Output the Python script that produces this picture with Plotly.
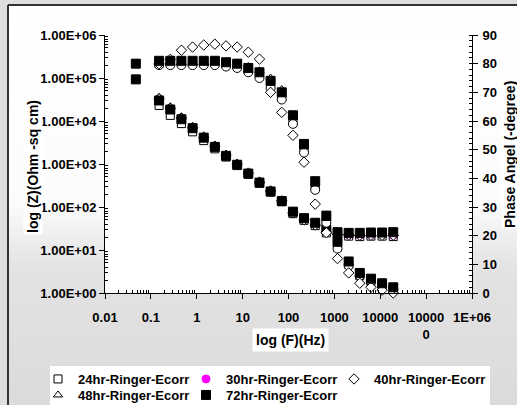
import base64
import plotly.graph_objects as go

# ---------------- data ----------------
freq = [0.151, 0.265, 0.463, 0.811, 1.42, 2.48, 4.35, 7.60, 13.3, 23.3, 40.7,
        71.3, 125, 218, 382, 668, 1170, 2050, 3580, 6270, 10960, 19190]
freq_72 = [0.047, 0.151, 0.265, 0.463, 0.811, 1.42, 2.48, 4.35, 7.60, 13.3, 23.3, 40.7,
           71.3, 125, 218, 382, 668, 1170, 2050, 3580, 6270, 10960, 19190]

z_24 = [23000, 13500, 8700, 5600, 3500, 2250, 1450, 920, 575, 355, 222, 132,
        70, 49, 37, 25, 21.5, 21, 20.5, 21, 21, 20.5]
z_30 = [32000, 19500, 11500, 6900, 4100, 2550, 1580, 980, 610, 375, 232, 137,
        74, 52, 40, 27, 23.5, 22.5, 22, 22.5, 22.5, 22]
z_40 = [33000, 20000, 11800, 7100, 4200, 2600, 1600, 990, 615, 380, 236, 139,
        73, 50, 38, 26, 23, 22.5, 22, 22, 22, 22]
z_48 = [35500, 20900, 12300, 7400, 4370, 2690, 1660, 1020, 631, 389, 240, 141,
        76, 54, 42, 29, 25.7, 25.1, 24.5, 25.1, 25.1, 24.5]
z_72 = [93000, 30000, 18500, 11000, 6800, 4100, 2500, 1550, 960, 600, 370, 230,
        138, 78, 55, 43, 30, 26, 25, 25, 25.5, 25.5, 26]

p_24 = [80, 80.5, 80.5, 80.5, 80.5, 80.5, 80, 79.5, 78, 76.5, 73, 68.5,
        60, 50, 37, 25, 16, 10, 6, 4, 2.5, 1.5]
p_30 = [79.5, 79.5, 79.5, 79.5, 79.5, 79.5, 79, 78.5, 77, 75, 71.5, 67.5,
        59, 49, 36, 24.5, 15.5, 9.5, 6, 4, 2.5, 1.5]
p_40 = [80, 81.5, 84.7, 85.8, 86.5, 86.8, 86.2, 85.8, 84, 81.6, 70, 63,
        55, 45.6, 31, 21, 12, 7, 3.4, 2, 1, 0]
p_48 = [80.5, 80.5, 80.5, 80.5, 80.5, 80.5, 80.5, 80, 79, 77.5, 75, 71,
        62, 51, 38, 26, 17, 10.5, 6.5, 4.5, 3, 2]
p_72 = [80, 81, 81, 81, 81, 81, 81, 80.5, 80, 78.5, 77, 74,
        70, 62, 52, 39, 27, 18, 11, 7, 5, 3.4, 2]

names = ["24hr-Ringer-Ecorr", "30hr-Ringer-Ecorr", "40hr-Ringer-Ecorr",
         "48hr-Ringer-Ecorr", "72hr-Ringer-Ecorr"]

x_tickvals = [0.01, 0.1, 1, 10, 100, 1000, 10000, 100000, 1000000]
x_ticktext = ["0.01", "0.1", "1", "10", "100", "1000", "10000", "10000<br>0", "1E+06"]
y_tickvals = [1, 10, 100, 1000, 10000, 100000, 1000000]
y_ticktext = ["1.00E+00", "1.00E+01", "1.00E+02", "1.00E+03", "1.00E+04", "1.00E+05", "1.00E+06"]
y2_tickvals = [0, 10, 20, 30, 40, 50, 60, 70, 80, 90]

# ---------------- layout geometry ----------------
W, H = 517, 405
ML, MR, MT, MB = 105, 45, 35, 112
PW, PH = W - ML - MR, H - MT - MB


def X(px):
    return (px - ML) / PW


def Y(py):
    return (H - MB - py) / PH


FONT = "Arial, Liberation Sans, sans-serif"

styles = {
    "24": dict(symbol="square", size=8, color="white", line=dict(color="black", width=1)),
    "30": dict(symbol="circle", size=8, color="#ff00ff", line=dict(color="#ff00ff", width=1)),
    "30p": dict(symbol="circle", size=9, color="white", line=dict(color="black", width=1)),
    "40": dict(symbol="diamond", size=8, color="white", line=dict(color="black", width=1)),
    "48": dict(symbol="triangle-up", size=8, color="white", line=dict(color="black", width=1)),
    "72": dict(symbol="square", size=9, color="black", line=dict(color="black", width=1)),
}

fig = go.Figure()

# (key, name, freq, Z, phase, legend id, legend entry width, Z marker, phase marker)
series = [
    ("24", names[0], freq, z_24, p_24, "legend", 103, styles["24"], styles["24"]),
    ("30", names[1], freq, z_30, p_30, "legend", 103, styles["30"], styles["30p"]),
    ("40", names[2], freq, z_40, p_40, "legend", 130, styles["40"], styles["40"]),
    ("48", names[3], freq, z_48, p_48, "legend2", 103, styles["48"], styles["48"]),
    ("72", names[4], freq_72, z_72, p_72, "legend2", 130, styles["72"], styles["72"]),
]

for key, name, f, z, p, leg, lw, mz, mp in series:
    fig.add_trace(go.Scatter(x=f, y=z, mode="markers", name=name, legend=leg,
                             legendwidth=lw, legendgroup=key, marker=mz, yaxis="y",
                             cliponaxis=False))
for key, name, f, z, p, leg, lw, mz, mp in series:
    fig.add_trace(go.Scatter(x=f, y=p, mode="markers", name=name + " phase",
                             legendgroup=key, showlegend=False, marker=mp,
                             yaxis="y2", cliponaxis=False))

# gradient background for chart area
svg = ('<svg xmlns="http://www.w3.org/2000/svg" width="100" height="100" preserveAspectRatio="none">'
       '<defs><linearGradient id="g" x1="0" y1="0" x2="0" y2="1">'
       '<stop offset="0" stop-color="#ffffff"/>'
       '<stop offset="0.48" stop-color="#fcfcfc"/>'
       '<stop offset="0.64" stop-color="#e3e3e3"/>'
       '<stop offset="1" stop-color="#dadada"/>'
       '</linearGradient></defs>'
       '<rect width="100" height="100" fill="url(#g)"/></svg>')
svg_uri = "data:image/svg+xml;base64," + base64.b64encode(svg.encode()).decode()

axis_common = dict(showline=True, linecolor="black", linewidth=1, showgrid=False,
                   zeroline=False, automargin=False, ticks="outside", ticklen=5,
                   tickcolor="black", tickwidth=1,
                   tickfont=dict(family=FONT, size=13, color="black", weight="bold"))

minor_log = []
for d in [0.01, 0.1, 1, 10, 100, 1000, 10000, 100000]:
    for m in range(2, 10):
        minor_log.append(d * m)
minor_logy = []
for d in [1, 10, 100, 1000, 10000, 100000]:
    for m in range(2, 10):
        minor_logy.append(d * m)

legend_common = dict(orientation="h", xref="paper", yref="paper", xanchor="left",
                     yanchor="middle", bgcolor="rgba(0,0,0,0)", borderwidth=0,
                     entrywidth=103, entrywidthmode="pixels",
                     font=dict(family=FONT, size=13, color="black", weight="bold"))

fig.update_layout(
    width=W, height=H,
    margin=dict(l=ML, r=MR, t=MT, b=MB, autoexpand=False),
    paper_bgcolor="#dedede",
    plot_bgcolor="white",
    font=dict(family=FONT, color="black"),
    xaxis=dict(type="log", range=[-2, 6], tickmode="array", tickvals=x_tickvals,
               ticktext=x_ticktext, ticklabelstandoff=7,
               minor=dict(tickmode="array", tickvals=minor_log, ticks="inside",
                          ticklen=3, tickcolor="black"),
               **axis_common),
    yaxis=dict(type="log", range=[0, 6], tickmode="array", tickvals=y_tickvals,
               ticktext=y_ticktext,
               minor=dict(tickmode="array", tickvals=minor_logy, ticks="inside",
                          ticklen=3, tickcolor="black"),
               **axis_common),
    yaxis2=dict(overlaying="y", side="right", range=[0, 90], tickmode="array",
                tickvals=y2_tickvals, ticklabelstandoff=2,
                minor=dict(dtick=2, ticks="inside", ticklen=3, tickcolor="black"),
                **axis_common),
    legend=dict(x=X(38), y=Y(379), **legend_common),
    legend2=dict(x=X(38), y=Y(395), **legend_common),
    images=[dict(source=svg_uri, xref="paper", yref="paper", x=X(8), y=Y(5),
                 sizex=(W + 10 - 8) / PW, sizey=(H + 10 - 5) / PH,
                 xanchor="left", yanchor="top", sizing="stretch", layer="below")],
    shapes=[
        dict(type="rect", xref="paper", yref="paper", x0=0, x1=1, y0=0, y1=1,
             fillcolor="white", line=dict(width=0), layer="below"),
        dict(type="rect", xref="paper", yref="paper", x0=X(50), x1=X(490),
             y0=Y(406), y1=Y(366), fillcolor="white", line=dict(width=0), layer="below"),
        dict(type="line", xref="paper", yref="paper", x0=X(8), x1=X(W + 5),
             y0=Y(5), y1=Y(5), line=dict(color="#333333", width=2)),
        dict(type="line", xref="paper", yref="paper", x0=X(8), x1=X(8),
             y0=Y(5), y1=Y(H + 5), line=dict(color="#333333", width=2)),
    ],
    annotations=[
        dict(text="log (F)(Hz)", xref="paper", yref="paper", x=X(290), y=Y(352),
             showarrow=False, bgcolor="white", borderpad=3,
             font=dict(family=FONT, size=14, color="black", weight="bold")),
        dict(text="log (Z)(Ohm -sq cm)", xref="paper", yref="paper", x=X(23), y=Y(167),
             textangle=-90, showarrow=False, bgcolor="white", borderpad=1,
             font=dict(family=FONT, size=14, color="black", weight="bold")),
        dict(text="Phase Angel (-degree)", xref="paper", yref="paper", x=X(519), y=Y(155),
             xanchor="right", textangle=-90, showarrow=False, bgcolor="white", borderpad=0,
             font=dict(family=FONT, size=14, color="black", weight="bold")),
    ],
)

fig.write_html("out.html")
